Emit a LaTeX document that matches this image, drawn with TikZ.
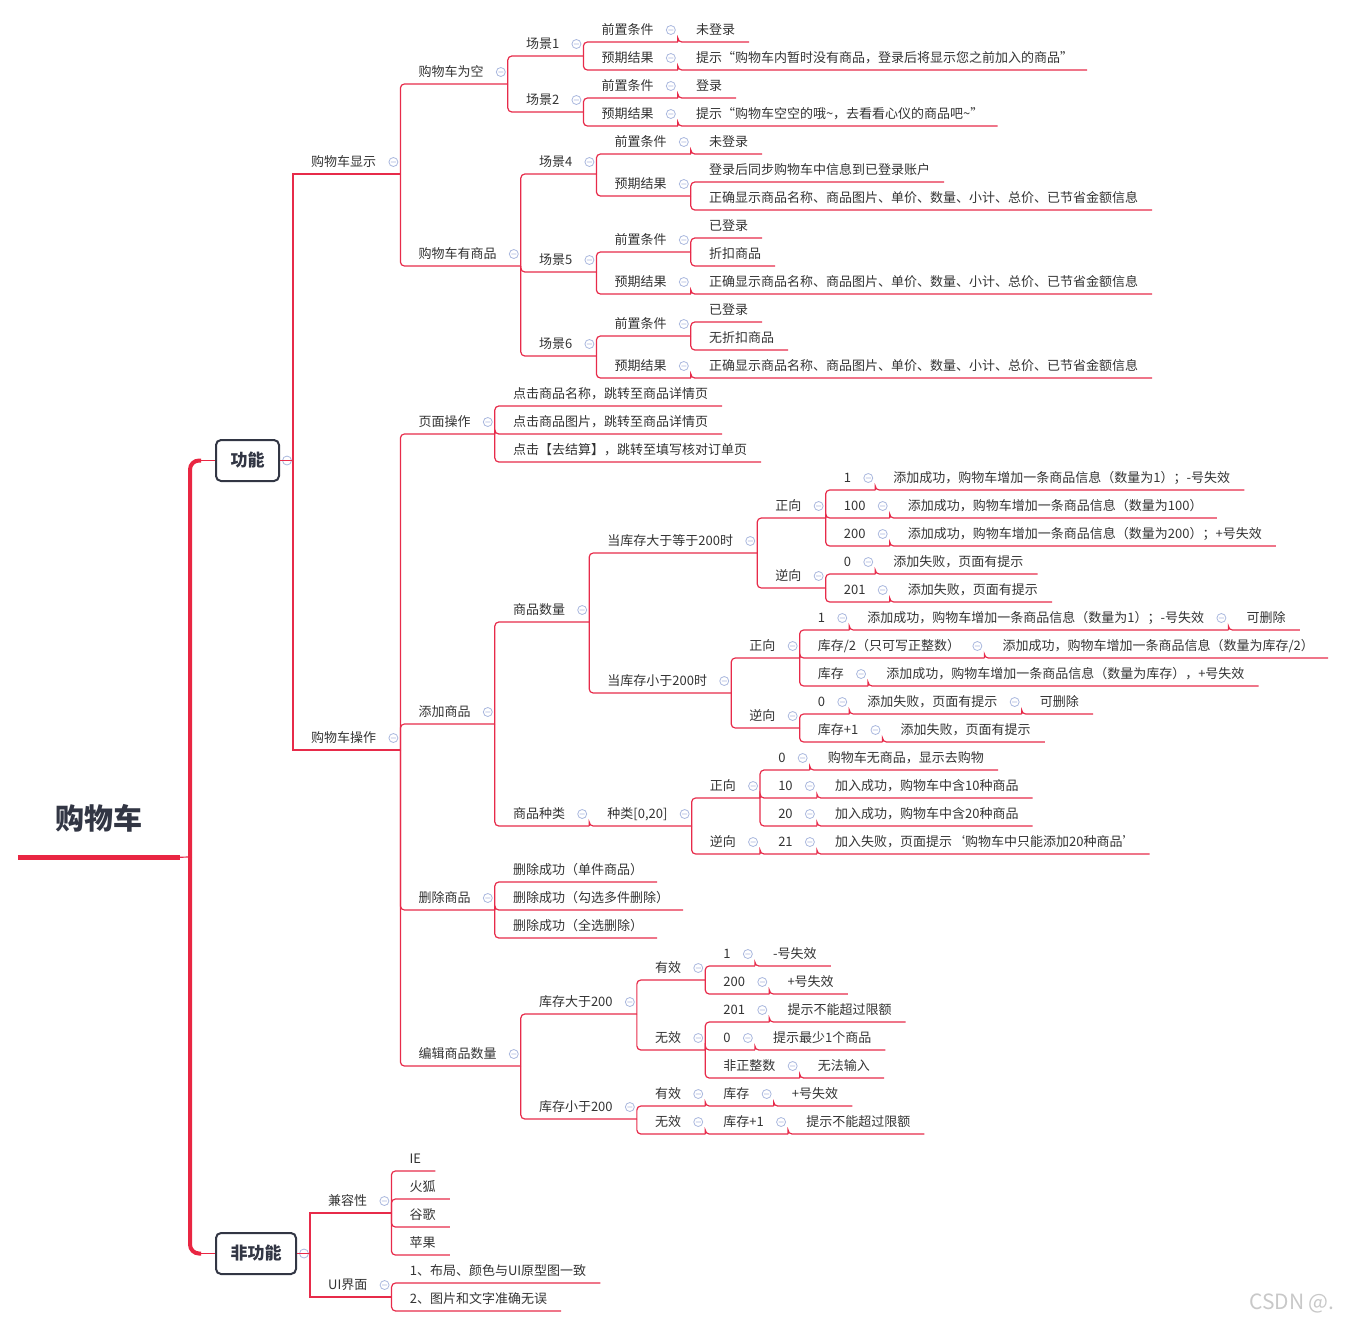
\documentclass[tikz,border=0pt]{standalone}
\usepackage{fontspec}
\usepackage{tikz}
\setmainfont{Noto Sans CJK SC}
\definecolor{linered}{RGB}{231, 43, 74}
\definecolor{trunkred}{RGB}{233, 38, 66}
\definecolor{txtgray}{RGB}{51, 51, 51}
\definecolor{boxgray}{RGB}{50, 54, 68}
\definecolor{foldblue}{RGB}{170, 184, 222}
\definecolor{markgray}{RGB}{200, 200, 200}

\begin{document}
\begin{tikzpicture}[x=1pt, y=-1pt,
  leaf/.style={anchor=south west, inner xsep=0pt, inner ysep=0pt, text height=12pt, text depth=7pt, font=\fontsize{13pt}{15pt}\selectfont, text=txtgray, execute at begin node={\hspace*{18pt}}, execute at end node={\hspace*{14pt}}},
  topic/.style={leaf, execute at end node={\hspace*{10pt}}, append after command={\pgfextra{\draw[fold] ([shift={(-7pt,12pt)}]\tikzlastnode.south east) circle[radius=4.5pt] ++(-2.5pt,0pt) -- ++(5pt,0pt);}}},
  fold/.style={draw=foldblue, fill=white, line width=0.8pt},
  mainbox/.style={draw=boxgray, line width=2pt, rounded corners=5pt, inner xsep=14.5pt, inner ysep=0pt, minimum height=41pt, font=\fontsize{17pt}{20pt}\selectfont\bfseries, text=boxgray},
  rootnode/.style={minimum width=162pt, minimum height=78pt, inner sep=0pt, font=\fontsize{29pt}{34pt}\selectfont\bfseries, text=boxgray},
  wmark/.style={font=\fontsize{21pt}{24pt}\selectfont, text=markgray},
  link/.style={draw=linered, line width=1.2pt, rounded corners=4pt},
  link0/.style={draw=linered, line width=1.2pt},
  trunk/.style={draw=trunkred, line width=4pt, rounded corners=9pt}
]
  \useasboundingbox (0,0) rectangle (1351,1326);

  % Root and main branches
  \node[rootnode] (root) at (99,818) {购物车};
  \draw[trunkred, line width=5pt] (root.south west) -- (root.south east);
  \coordinate (hub) at (190,857);
  \node[mainbox] (fn) at (247.5,460.5) {功能};
  \node[mainbox] (nf) at (256,1253.5) {非功能};
  \draw[link0] (root.south east) -- (hub);
  \draw[trunk] (hub) |- ([xshift=-14pt]fn.west);
  \draw[trunk] (hub) |- ([xshift=-14pt]nf.west);
  \draw[trunkred, line width=1.5pt] ([xshift=-15pt]fn.west) -- (fn.west);
  \draw[trunkred, line width=1.5pt] ([xshift=-15pt]nf.west) -- (nf.west);
  \coordinate (fnj) at ([xshift=13pt]fn.east);
  \coordinate (nfj) at ([xshift=13pt]nf.east);
  \draw[fold] ([xshift=7pt]fn.east) circle[radius=4.5pt] ++(-2.5pt,0pt) -- ++(5pt,0pt);
  \draw[fold] ([xshift=7pt]nf.east) circle[radius=4.5pt] ++(-2.5pt,0pt) -- ++(5pt,0pt);

  % 购物车显示
  \node[topic] (xs) at (fnj |- 0,174) {购物车显示};
  \node[topic] (kong) at (xs.south east |- 0,84) {购物车为空};
  \node[topic] (cj1) at (kong.south east |- 0,56) {场景1};
  \node[topic] (cj1q) at (cj1.south east |- 0,42) {前置条件};
  \node[leaf] (cj1qa) at (cj1q.south east |- 0,42) {未登录};
  \node[topic] (cj1y) at (cj1.south east |- 0,70) {预期结果};
  \node[leaf] (cj1ya) at (cj1y.south east |- 0,70) {提示“购物车内暂时没有商品，登录后将显示您之前加入的商品”};
  \node[topic] (cj2) at (kong.south east |- 0,112) {场景2};
  \node[topic] (cj2q) at (cj2.south east |- 0,98) {前置条件};
  \node[leaf] (cj2qa) at (cj2q.south east |- 0,98) {登录};
  \node[topic] (cj2y) at (cj2.south east |- 0,126) {预期结果};
  \node[leaf] (cj2ya) at (cj2y.south east |- 0,126) {提示“购物车空空的哦\textasciitilde，去看看心仪的商品吧\textasciitilde”};
  \node[topic] (you) at (xs.south east |- 0,266) {购物车有商品};
  \node[topic] (cj4) at (you.south east |- 0,174) {场景4};
  \node[topic] (cj4q) at (cj4.south east |- 0,154) {前置条件};
  \node[leaf] (cj4qa) at (cj4q.south east |- 0,154) {未登录};
  \node[topic] (cj4y) at (cj4.south east |- 0,196) {预期结果};
  \node[leaf] (cj4ya) at (cj4y.south east |- 0,182) {登录后同步购物车中信息到已登录账户};
  \node[leaf] (cj4yb) at (cj4y.south east |- 0,210) {正确显示商品名称、商品图片、单价、数量、小计、总价、已节省金额信息};
  \node[topic] (cj5) at (you.south east |- 0,272) {场景5};
  \node[topic] (cj5q) at (cj5.south east |- 0,252) {前置条件};
  \node[leaf] (cj5qa) at (cj5q.south east |- 0,238) {已登录};
  \node[leaf] (cj5qb) at (cj5q.south east |- 0,266) {折扣商品};
  \node[topic] (cj5y) at (cj5.south east |- 0,294) {预期结果};
  \node[leaf] (cj5ya) at (cj5y.south east |- 0,294) {正确显示商品名称、商品图片、单价、数量、小计、总价、已节省金额信息};
  \node[topic] (cj6) at (you.south east |- 0,356) {场景6};
  \node[topic] (cj6q) at (cj6.south east |- 0,336) {前置条件};
  \node[leaf] (cj6qa) at (cj6q.south east |- 0,322) {已登录};
  \node[leaf] (cj6qb) at (cj6q.south east |- 0,350) {无折扣商品};
  \node[topic] (cj6y) at (cj6.south east |- 0,378) {预期结果};
  \node[leaf] (cj6ya) at (cj6y.south east |- 0,378) {正确显示商品名称、商品图片、单价、数量、小计、总价、已节省金额信息};

  % 购物车操作
  \node[topic] (cz) at (fnj |- 0,750) {购物车操作};
  \node[topic] (ym) at (cz.south east |- 0,434) {页面操作};
  \node[leaf] (ym1) at (ym.south east |- 0,406) {点击商品名称，跳转至商品详情页};
  \node[leaf] (ym2) at (ym.south east |- 0,434) {点击商品图片，跳转至商品详情页};
  \node[leaf] (ym3) at (ym.south east |- 0,462) {点击【去结算】，跳转至填写核对订单页};
  \node[topic] (tj) at (cz.south east |- 0,724) {添加商品};
  \node[topic] (sl) at (tj.south east |- 0,622) {商品数量};
  \node[topic] (ge) at (sl.south east |- 0,553) {当库存大于等于200时};
  \node[topic] (gez) at (ge.south east |- 0,518) {正向};
  \node[topic] (gez1) at (gez.south east |- 0,490) {1};
  \node[leaf] (gez1r) at (gez1.south east |- 0,490) {添加成功，购物车增加一条商品信息（数量为1）；-号失效};
  \node[topic] (gez2) at (gez.south east |- 0,518) {100};
  \node[leaf] (gez2r) at (gez2.south east |- 0,518) {添加成功，购物车增加一条商品信息（数量为100）};
  \node[topic] (gez3) at (gez.south east |- 0,546) {200};
  \node[leaf] (gez3r) at (gez3.south east |- 0,546) {添加成功，购物车增加一条商品信息（数量为200）；+号失效};
  \node[topic] (gen) at (ge.south east |- 0,588) {逆向};
  \node[topic] (gen1) at (gen.south east |- 0,574) {0};
  \node[leaf] (gen1r) at (gen1.south east |- 0,574) {添加失败，页面有提示};
  \node[topic] (gen2) at (gen.south east |- 0,602) {201};
  \node[leaf] (gen2r) at (gen2.south east |- 0,602) {添加失败，页面有提示};
  \node[topic] (lt) at (sl.south east |- 0,693) {当库存小于200时};
  \node[topic] (ltz) at (lt.south east |- 0,658) {正向};
  \node[topic] (ltz1) at (ltz.south east |- 0,630) {1};
  \node[topic] (ltz1r) at (ltz1.south east |- 0,630) {添加成功，购物车增加一条商品信息（数量为1）；-号失效};
  \node[leaf] (ltz1rr) at (ltz1r.south east |- 0,630) {可删除};
  \node[topic] (ltz2) at (ltz.south east |- 0,658) {库存/2（只可写正整数）};
  \node[leaf] (ltz2r) at (ltz2.south east |- 0,658) {添加成功，购物车增加一条商品信息（数量为库存/2）};
  \node[topic] (ltz3) at (ltz.south east |- 0,686) {库存};
  \node[leaf] (ltz3r) at (ltz3.south east |- 0,686) {添加成功，购物车增加一条商品信息（数量为库存），+号失效};
  \node[topic] (ltn) at (lt.south east |- 0,728) {逆向};
  \node[topic] (ltn1) at (ltn.south east |- 0,714) {0};
  \node[topic] (ltn1r) at (ltn1.south east |- 0,714) {添加失败，页面有提示};
  \node[leaf] (ltn1rr) at (ltn1r.south east |- 0,714) {可删除};
  \node[topic] (ltn2) at (ltn.south east |- 0,742) {库存+1};
  \node[leaf] (ltn2r) at (ltn2.south east |- 0,742) {添加失败，页面有提示};
  \node[topic] (zl) at (tj.south east |- 0,826) {商品种类};
  \node[topic] (zlr) at (zl.south east |- 0,826) {种类[0,20]};
  \node[topic] (zlz) at (zlr.south east |- 0,798) {正向};
  \node[topic] (zlz1) at (zlz.south east |- 0,770) {0};
  \node[leaf] (zlz1r) at (zlz1.south east |- 0,770) {购物车无商品，显示去购物};
  \node[topic] (zlz2) at (zlz.south east |- 0,798) {10};
  \node[leaf] (zlz2r) at (zlz2.south east |- 0,798) {加入成功，购物车中含10种商品};
  \node[topic] (zlz3) at (zlz.south east |- 0,826) {20};
  \node[leaf] (zlz3r) at (zlz3.south east |- 0,826) {加入成功，购物车中含20种商品};
  \node[topic] (zln) at (zlr.south east |- 0,854) {逆向};
  \node[topic] (zln1) at (zln.south east |- 0,854) {21};
  \node[leaf] (zln1r) at (zln1.south east |- 0,854) {加入失败，页面提示‘购物车中只能添加20种商品’};
  \node[topic] (sc) at (cz.south east |- 0,910) {删除商品};
  \node[leaf] (sc1) at (sc.south east |- 0,882) {删除成功（单件商品）};
  \node[leaf] (sc2) at (sc.south east |- 0,910) {删除成功（勾选多件删除）};
  \node[leaf] (sc3) at (sc.south east |- 0,938) {删除成功（全选删除）};
  \node[topic] (bj) at (cz.south east |- 0,1066) {编辑商品数量};
  \node[topic] (bg) at (bj.south east |- 0,1014) {库存大于200};
  \node[topic] (bgy) at (bg.south east |- 0,980) {有效};
  \node[topic] (bgy1) at (bgy.south east |- 0,966) {1};
  \node[leaf] (bgy1r) at (bgy1.south east |- 0,966) {-号失效};
  \node[topic] (bgy2) at (bgy.south east |- 0,994) {200};
  \node[leaf] (bgy2r) at (bgy2.south east |- 0,994) {+号失效};
  \node[topic] (bgw) at (bg.south east |- 0,1050) {无效};
  \node[topic] (bgw1) at (bgw.south east |- 0,1022) {201};
  \node[leaf] (bgw1r) at (bgw1.south east |- 0,1022) {提示不能超过限额};
  \node[topic] (bgw2) at (bgw.south east |- 0,1050) {0};
  \node[leaf] (bgw2r) at (bgw2.south east |- 0,1050) {提示最少1个商品};
  \node[topic] (bgw3) at (bgw.south east |- 0,1078) {非正整数};
  \node[leaf] (bgw3r) at (bgw3.south east |- 0,1078) {无法输入};
  \node[topic] (bl) at (bj.south east |- 0,1119) {库存小于200};
  \node[topic] (bly) at (bl.south east |- 0,1106) {有效};
  \node[topic] (bly1) at (bly.south east |- 0,1106) {库存};
  \node[leaf] (bly1r) at (bly1.south east |- 0,1106) {+号失效};
  \node[topic] (blw) at (bl.south east |- 0,1134) {无效};
  \node[topic] (blw1) at (blw.south east |- 0,1134) {库存+1};
  \node[leaf] (blw1r) at (blw1.south east |- 0,1134) {提示不能超过限额};

  % 非功能
  \node[topic] (jr) at (nfj |- 0,1213) {兼容性};
  \node[leaf] (jr1) at (jr.south east |- 0,1171) {IE};
  \node[leaf] (jr2) at (jr.south east |- 0,1199) {火狐};
  \node[leaf] (jr3) at (jr.south east |- 0,1227) {谷歌};
  \node[leaf] (jr4) at (jr.south east |- 0,1255) {苹果};
  \node[topic] (ui) at (nfj |- 0,1297) {UI界面};
  \node[leaf] (ui1) at (ui.south east |- 0,1283) {1、布局、颜色与UI原型图一致};
  \node[leaf] (ui2) at (ui.south east |- 0,1311) {2、图片和文字准确无误};

  \node[wmark] (wm) at (1292,1303) {CSDN @.};

  % Connectors
  \foreach \c in {xs,cz} \draw[link0] (fn.east) -- (fnj) |- (\c.south east);
  \foreach \c in {jr,ui} \draw[link0] (nf.east) -- (nfj) |- (\c.south east);
  \foreach \p/\c in {xs/kong, xs/you, kong/cj1, kong/cj2, cj1/cj1q, cj1/cj1y, cj1q/cj1qa, cj1y/cj1ya,
      cj2/cj2q, cj2/cj2y, cj2q/cj2qa, cj2y/cj2ya, you/cj4, you/cj5, you/cj6,
      cj4/cj4q, cj4/cj4y, cj4q/cj4qa, cj4y/cj4ya, cj4y/cj4yb,
      cj5/cj5q, cj5/cj5y, cj5q/cj5qa, cj5q/cj5qb, cj5y/cj5ya,
      cj6/cj6q, cj6/cj6y, cj6q/cj6qa, cj6q/cj6qb, cj6y/cj6ya,
      cz/ym, cz/tj, cz/sc, cz/bj, ym/ym1, ym/ym2, ym/ym3, tj/sl, tj/zl, sl/ge, sl/lt,
      ge/gez, ge/gen, gez/gez1, gez/gez2, gez/gez3, gez1/gez1r, gez2/gez2r, gez3/gez3r,
      gen/gen1, gen/gen2, gen1/gen1r, gen2/gen2r,
      lt/ltz, lt/ltn, ltz/ltz1, ltz/ltz2, ltz/ltz3, ltz1/ltz1r, ltz1r/ltz1rr, ltz2/ltz2r, ltz3/ltz3r,
      ltn/ltn1, ltn/ltn2, ltn1/ltn1r, ltn1r/ltn1rr, ltn2/ltn2r,
      zl/zlr, zlr/zlz, zlr/zln, zlz/zlz1, zlz/zlz2, zlz/zlz3, zlz1/zlz1r, zlz2/zlz2r, zlz3/zlz3r,
      zln/zln1, zln1/zln1r, sc/sc1, sc/sc2, sc/sc3,
      bj/bg, bj/bl, bg/bgy, bg/bgw, bgy/bgy1, bgy/bgy2, bgy1/bgy1r, bgy2/bgy2r,
      bgw/bgw1, bgw/bgw2, bgw/bgw3, bgw1/bgw1r, bgw2/bgw2r, bgw3/bgw3r,
      bl/bly, bl/blw, bly/bly1, bly1/bly1r, blw/blw1, blw1/blw1r,
      jr/jr1, jr/jr2, jr/jr3, jr/jr4, ui/ui1, ui/ui2}
    \draw[link] (\p.south east) |- (\c.south east);
\end{tikzpicture}
\end{document}
